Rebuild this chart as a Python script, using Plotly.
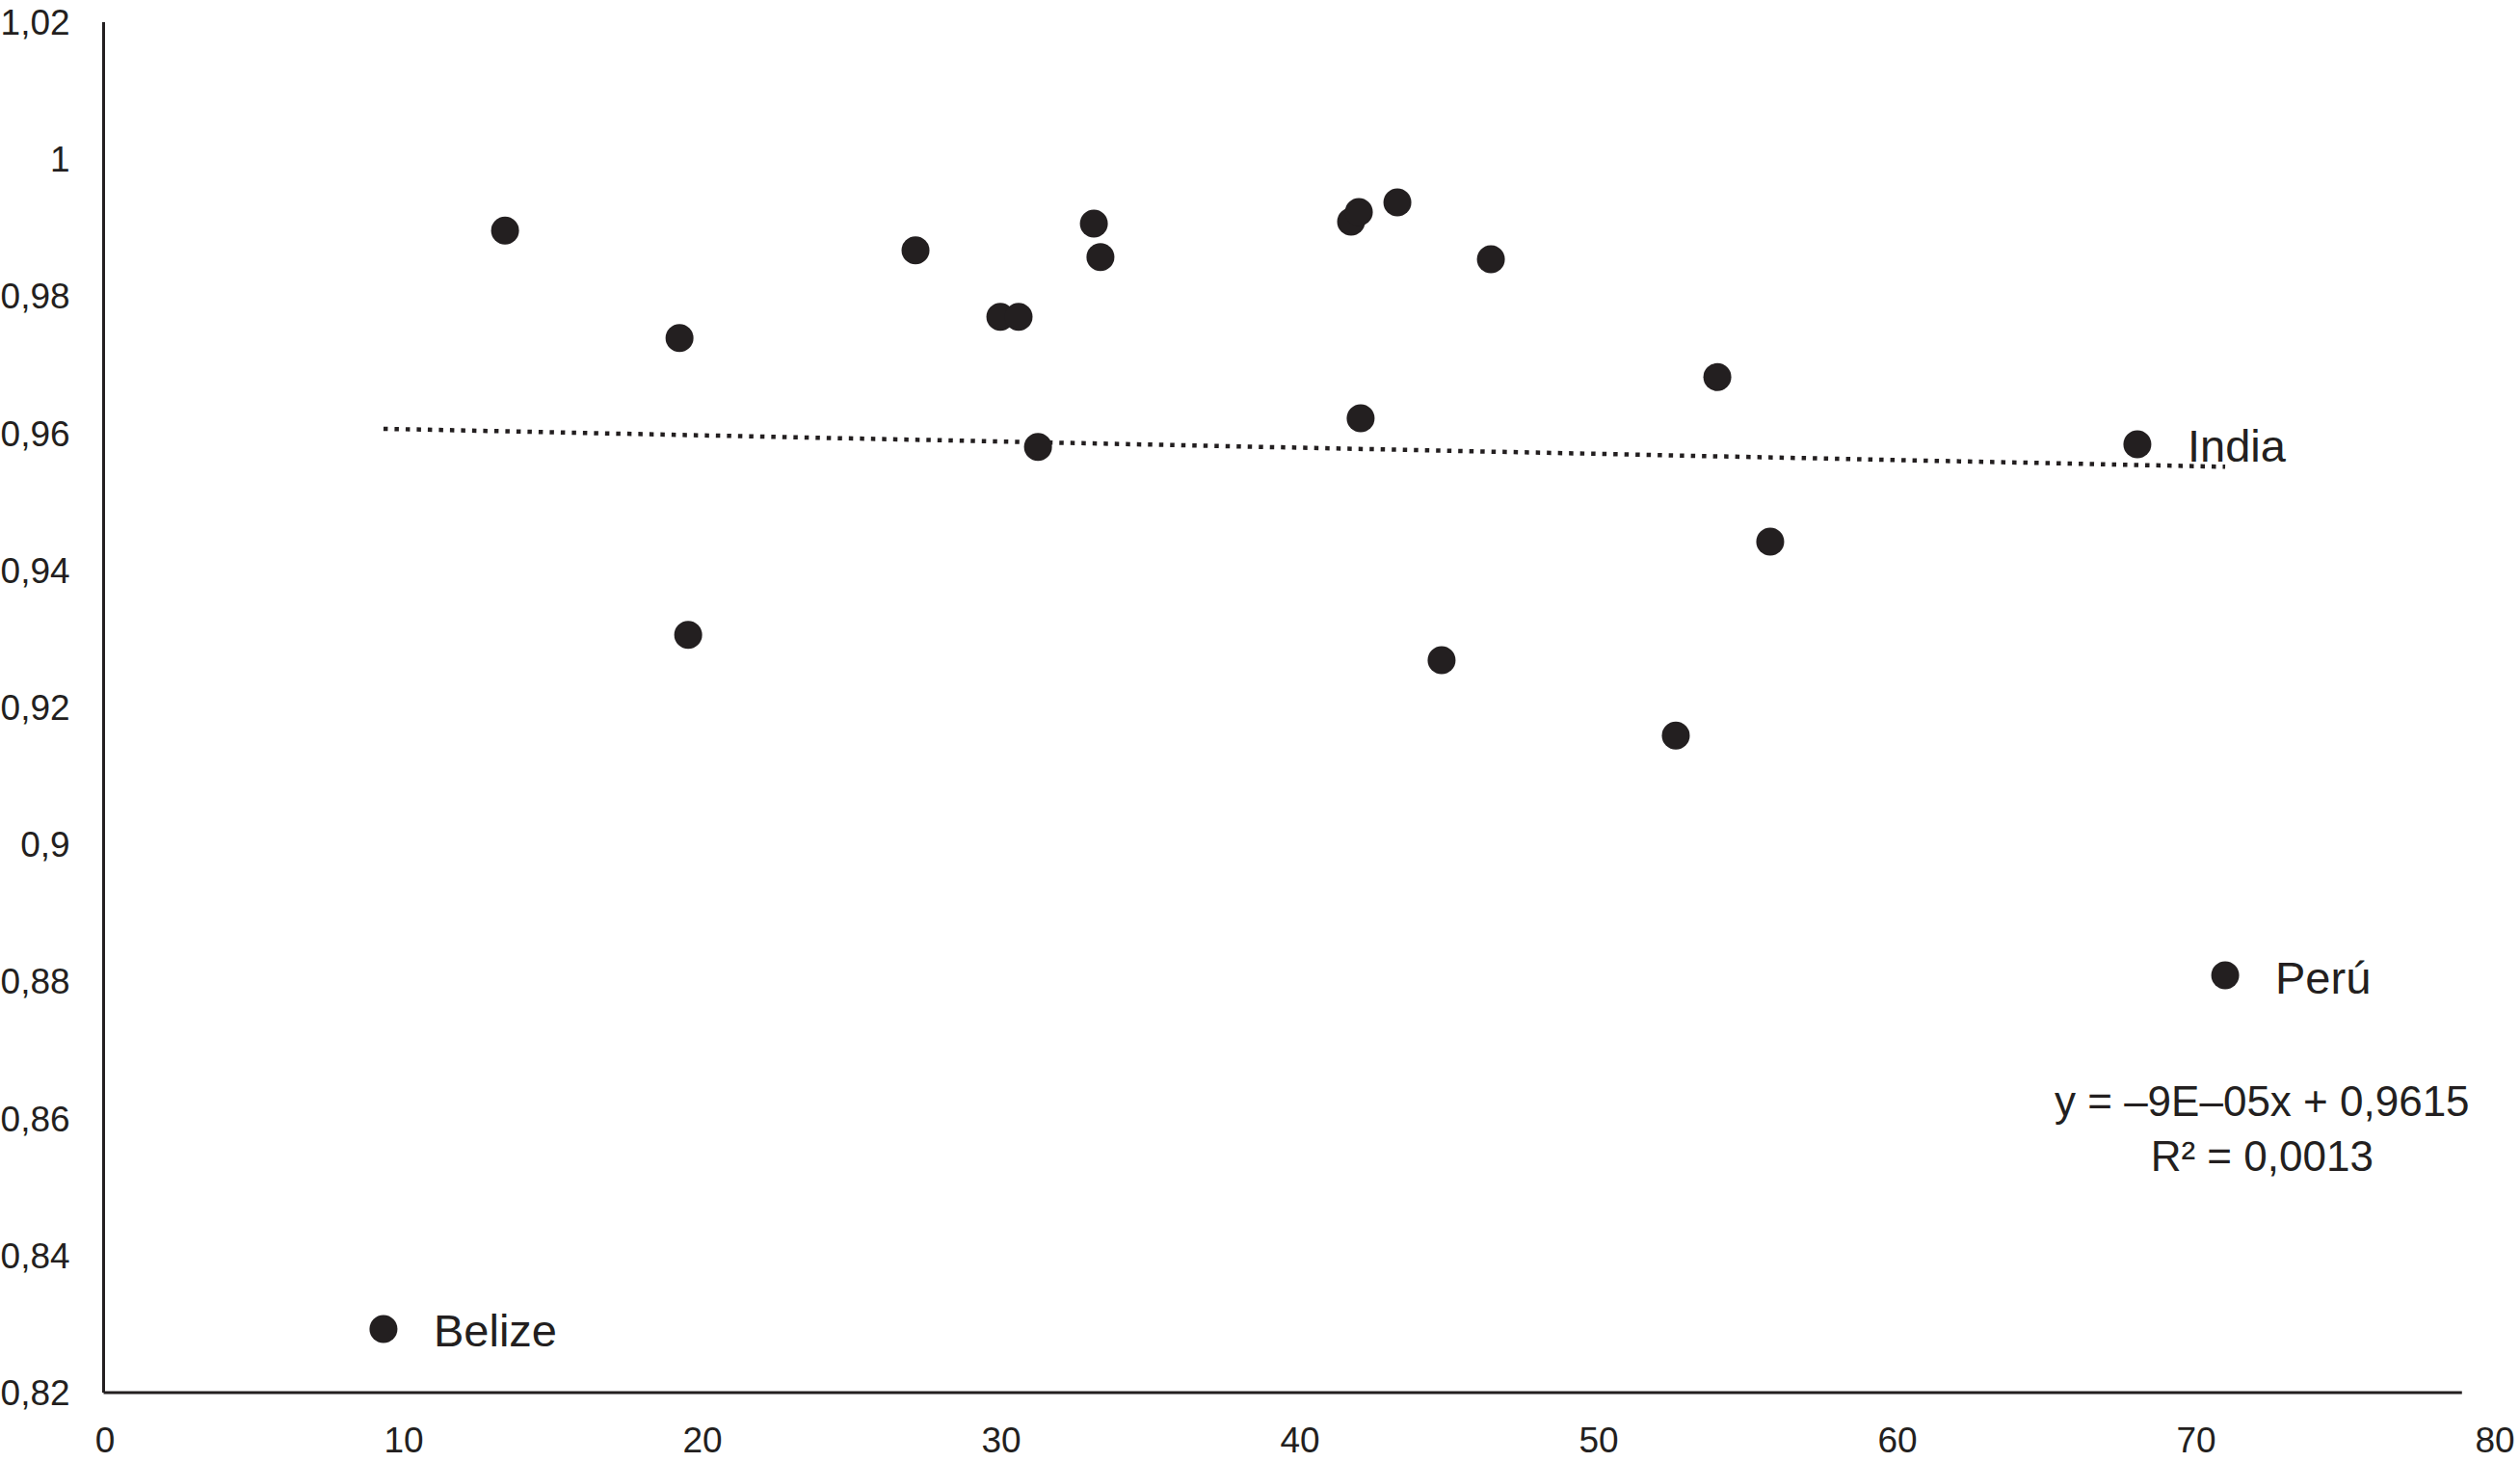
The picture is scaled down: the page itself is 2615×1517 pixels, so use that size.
import plotly.graph_objects as go

# ---- data ----
x_vals = [9.32, 13.39, 19.23, 19.52, 27.13, 29.97, 30.58, 31.23, 33.10, 33.32,
          41.71, 41.97, 43.26, 42.03, 44.74, 46.39, 52.58, 53.97, 55.74, 68.03, 70.97]
y_vals = [0.8293, 0.9896, 0.9739, 0.9306, 0.9867, 0.9770, 0.9770, 0.9580, 0.9906, 0.9857,
          0.9909, 0.9923, 0.9937, 0.9622, 0.9269, 0.9854, 0.9159, 0.9682, 0.9442, 0.9584, 0.8809]
point_labels = ["Belize", "", "", "", "", "", "", "", "", "",
                "", "", "", "", "", "", "", "", "", "India", "Perú"]

trend_slope = -9e-05
trend_intercept = 0.9615
equation_text = "y = –9E–05x + 0,9615<br>R² = 0,0013"

x_ticks = [0, 10, 20, 30, 40, 50, 60, 70, 80]
x_ticklabels = ["0", "10", "20", "30", "40", "50", "60", "70", "80"]
y_ticks = [0.82, 0.84, 0.86, 0.88, 0.90, 0.92, 0.94, 0.96, 0.98, 1.00, 1.02]
y_ticklabels = ["0,82", "0,84", "0,86", "0,88", "0,9", "0,92", "0,94", "0,96", "0,98", "1", "1,02"]

INK = "#231f20"
FONT = "Liberation Sans, Arial, Helvetica, sans-serif"

fig = go.Figure()

# linear trendline across the data range
tx = [min(x_vals), max(x_vals)]
ty = [trend_slope * v + trend_intercept for v in tx]
fig.add_trace(go.Scatter(
    x=tx, y=ty, mode="lines",
    line=dict(color=INK, width=4.5, dash="4.5px,7px"),
    hoverinfo="skip", showlegend=False,
))

fig.add_trace(go.Scatter(
    x=x_vals, y=y_vals, mode="markers",
    marker=dict(size=29, color=INK, line=dict(width=0)),
    showlegend=False,
))

annotations = []
for xv, yv, lab in zip(x_vals, y_vals, point_labels):
    if lab:
        annotations.append(dict(
            x=xv, y=yv, xref="x", yref="y", text=lab, showarrow=False,
            xanchor="left", yanchor="middle", xshift=50, yshift=-2,
            font=dict(family=FONT, size=47, color=INK),
        ))

annotations.append(dict(
    x=72.2, y=0.8585, xref="x", yref="y", text=equation_text, showarrow=False,
    xanchor="center", yanchor="middle", align="center",
    font=dict(family=FONT, size=44, color=INK),
))

fig.update_layout(
    width=2615, height=1517,
    margin=dict(l=109, r=26, t=23, b=72, pad=0),
    paper_bgcolor="white", plot_bgcolor="white",
    font=dict(family=FONT, color=INK, size=37),
    annotations=annotations,
    shapes=[dict(type="line", xref="paper", yref="paper",
                 x0=-0.0006, x1=0.9862, y0=0, y1=0,
                 line=dict(color=INK, width=3), layer="above")],
    showlegend=False,
)

fig.update_xaxes(
    range=[0, 80], tickvals=x_ticks, ticktext=x_ticklabels,
    showgrid=False, zeroline=False, showline=False, ticks="",
    ticklabelstandoff=24, automargin=False,
    tickfont=dict(family=FONT, size=37, color=INK),
)
fig.update_yaxes(
    range=[0.82, 1.02], tickvals=y_ticks, ticktext=y_ticklabels,
    showgrid=False, zeroline=False, showline=True, linecolor=INK, linewidth=3,
    ticks="", ticklabelstandoff=26, automargin=False,
    tickfont=dict(family=FONT, size=37, color=INK),
)

fig.write_html("out.html", post_script="document.body.style.margin='0';",
               config={"displayModeBar": False})
